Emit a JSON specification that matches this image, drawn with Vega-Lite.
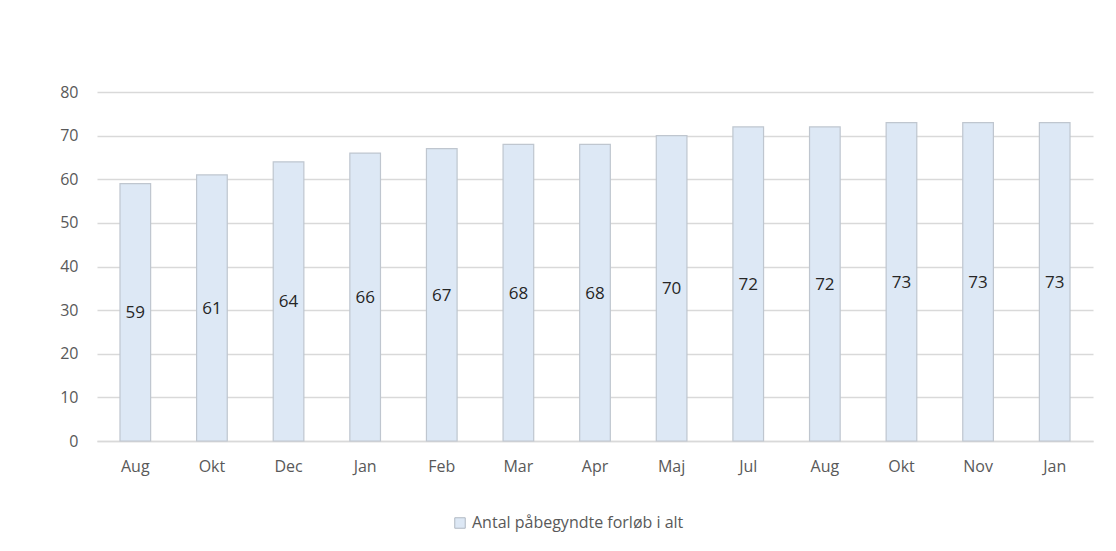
{
  "$schema": "https://vega.github.io/schema/vega-lite/v6.json",
  "width": 996,
  "height": 349,
  "padding": {"left": 57, "top": 84, "right": 23, "bottom": 10},
  "autosize": {"type": "pad"},
  "background": "white",
  "config": {
    "view": {"stroke": null},
    "font": "Open Sans",
    "axis": {"labelFont": "Open Sans", "labelColor": "#595959", "labelFontSize": 16, "ticks": false},
    "legend": {"labelFont": "Open Sans", "labelColor": "#595959", "labelFontSize": 16}
  },
  "data": {
    "values": [
      {"key": "Aug|1", "value": 59, "series": "Antal påbegyndte forløb i alt"},
      {"key": "Okt|2", "value": 61, "series": "Antal påbegyndte forløb i alt"},
      {"key": "Dec|3", "value": 64, "series": "Antal påbegyndte forløb i alt"},
      {"key": "Jan|4", "value": 66, "series": "Antal påbegyndte forløb i alt"},
      {"key": "Feb|5", "value": 67, "series": "Antal påbegyndte forløb i alt"},
      {"key": "Mar|6", "value": 68, "series": "Antal påbegyndte forløb i alt"},
      {"key": "Apr|7", "value": 68, "series": "Antal påbegyndte forløb i alt"},
      {"key": "Maj|8", "value": 70, "series": "Antal påbegyndte forløb i alt"},
      {"key": "Jul|9", "value": 72, "series": "Antal påbegyndte forløb i alt"},
      {"key": "Aug|10", "value": 72, "series": "Antal påbegyndte forløb i alt"},
      {"key": "Okt|11", "value": 73, "series": "Antal påbegyndte forløb i alt"},
      {"key": "Nov|12", "value": 73, "series": "Antal påbegyndte forløb i alt"},
      {"key": "Jan|13", "value": 73, "series": "Antal påbegyndte forløb i alt"}
    ]
  },
  "encoding": {
    "x": {
      "field": "key",
      "type": "nominal",
      "sort": null,
      "scale": {"paddingInner": 0.6, "paddingOuter": 0.3},
      "axis": {
        "title": null,
        "labelAngle": 0,
        "labelPadding": 17,
        "domainColor": "#d9d9d9",
        "domainWidth": 1.5,
        "labelExpr": "split(datum.value, '|')[0]"
      }
    }
  },
  "layer": [
    {
      "mark": {"type": "bar", "stroke": "#bfc6cf", "strokeWidth": 1.2},
      "encoding": {
        "y": {
          "field": "value",
          "type": "quantitative",
          "scale": {"domain": [0, 80]},
          "axis": {
            "title": null,
            "values": [0, 10, 20, 30, 40, 50, 60, 70, 80],
            "domain": false,
            "gridColor": "#d9d9d9",
            "gridWidth": 1.5,
            "labelPadding": 19,
            "labelFontSize": 16,
            "minExtent": 40,
            "maxExtent": 40
          }
        },
        "color": {
          "field": "series",
          "type": "nominal",
          "scale": {"range": ["#dde8f5"]},
          "legend": {
            "title": null,
            "orient": "none",
            "legendX": 355,
            "legendY": 423,
            "direction": "horizontal",
            "symbolType": "square",
            "symbolSize": 110,
            "symbolStrokeColor": "#b0b8c2",
            "symbolStrokeWidth": 1,
            "labelOffset": 4,
            "labelLimit": 0
          }
        }
      }
    },
    {
      "mark": {"type": "text", "fontSize": 17, "color": "#262626", "baseline": "middle", "font": "Open Sans", "dy": 1},
      "encoding": {
        "y": {"field": "value", "type": "quantitative", "scale": {"domain": [0, 160]}, "axis": null},
        "text": {"field": "value", "type": "quantitative"}
      }
    }
  ],
  "resolve": {"scale": {"y": "independent"}}
}
